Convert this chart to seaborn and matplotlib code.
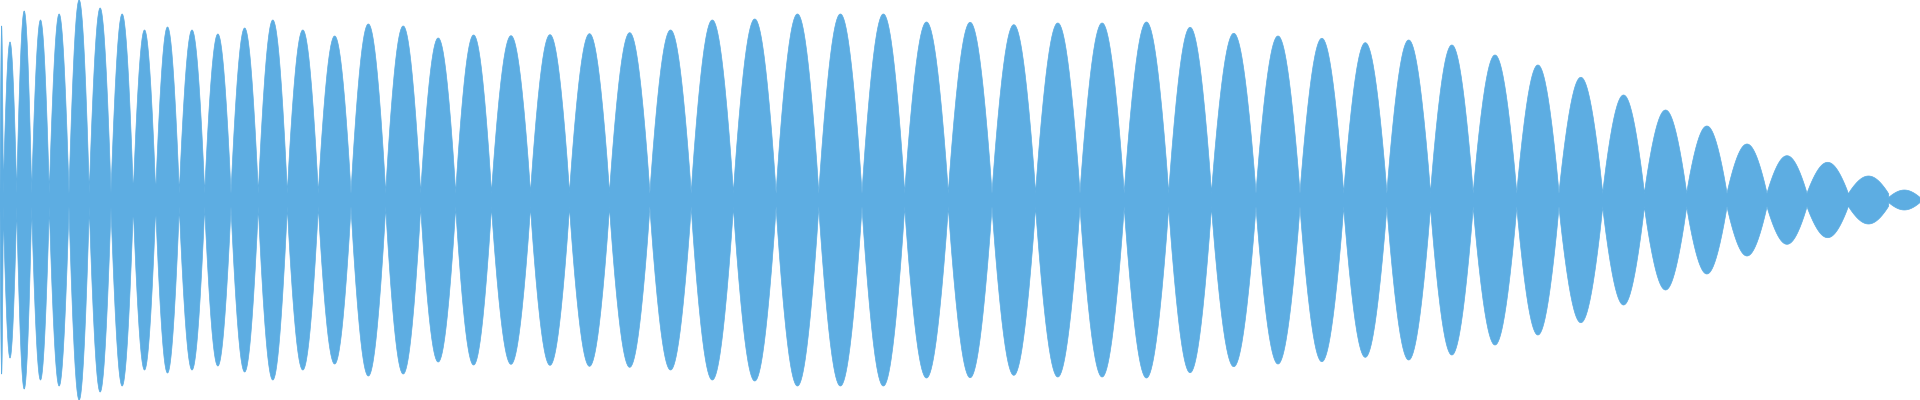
import numpy as np
import pandas as pd
import matplotlib
matplotlib.use("Agg")
import matplotlib.pyplot as plt
import seaborn as sns

# zero-crossing positions of the waveform envelope (pixel-like time units)
nodes = [0, 3.3, 16.7, 31.7, 49.3, 69, 89.3, 111, 133.3, 155.7, 179.3, 204.7, 231, 258.3,
         287.3, 318.3, 351, 385.7, 420.7, 455.7, 491.5, 530.5, 569.5, 609.5, 649.9, 691.2,
         733.4, 776.1, 818.8, 862, 904.7, 948.3, 992, 1035.6, 1080, 1124.2, 1168.7, 1211.5,
         1256, 1300, 1343.7, 1386.9, 1430.5, 1473.2, 1516.8, 1559, 1602.7, 1644.4, 1686.7,
         1727, 1767, 1807, 1848.3, 1888.7, 1920]
# peak amplitude of each lobe
peaks = [174, 158, 189, 180, 186, 200, 192, 186, 170, 173, 170, 166, 172, 180, 170, 164,
         176, 174, 162, 165,
         164.3, 165.3, 166.3, 167.3, 170, 180, 181, 186, 186, 186, 178, 177.7, 175.3, 177,
         177, 178, 172.7,
         166.7, 164, 161.7, 157.3, 160, 155, 145, 135, 122.7, 105, 90, 74, 56, 44.3, 37.7,
         24, 10]

sns.set_theme(style="white")
color = "#5dade2"

xs, ys = [], []
for i, a in enumerate(peaks):
    x0, x1 = nodes[i], nodes[i + 1]
    t = np.linspace(x0, x1, 80)
    floor = min(6.5, 0.25 * a)
    s = np.sin(np.pi * (t - x0) / (x1 - x0)).clip(0, 1)
    env = floor + (a - floor) * s ** 0.92
    xs.append(t)
    ys.append(env)
x = np.concatenate(xs)
y = np.concatenate(ys)
df = pd.DataFrame({"t": x, "amp": y})

fig = plt.figure(figsize=(19.2, 4), dpi=100)
ax = fig.add_axes([0, 0, 1, 1])
sns.lineplot(data=df, x="t", y="amp", ax=ax, color=color, linewidth=0.5, sort=False, estimator=None)
ax.plot(df["t"], -df["amp"], color=color, linewidth=0.5)
ax.fill_between(df["t"], -df["amp"], df["amp"], color=color, linewidth=0)
ax.set_xlim(0, 1920)
ax.set_ylim(-200, 200)
ax.axis("off")
fig.savefig("out.png", dpi=100)
